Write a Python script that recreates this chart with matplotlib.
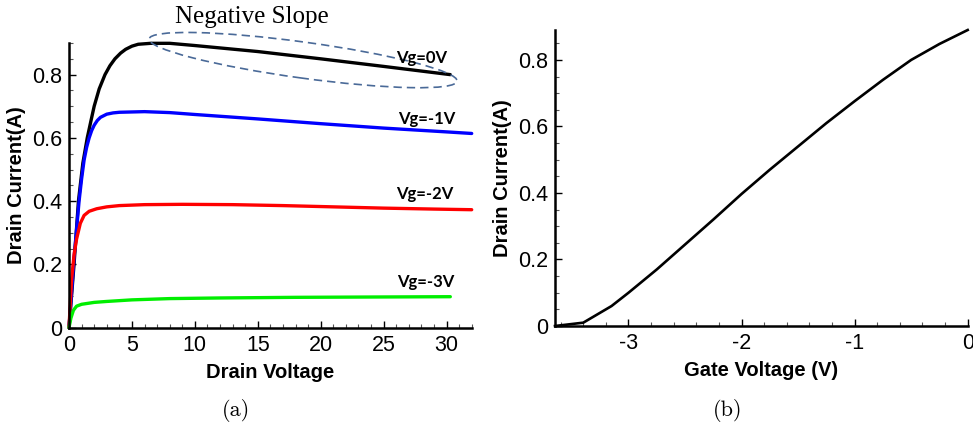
import matplotlib
matplotlib.use("Agg")
import matplotlib.pyplot as plt
import matplotlib.transforms as mtransforms
from matplotlib.patches import Ellipse
from matplotlib.ticker import MultipleLocator

plt.rcParams['axes.unicode_minus'] = False
plt.rcParams['font.family'] = ['Liberation Sans', 'DejaVu Sans']

# ---- Panel (a): output characteristics ----
vd_0 = [0, 0.4, 0.75, 1.1, 1.45, 1.75, 2.0, 2.4, 2.86, 3.25, 3.65, 4.1, 4.5, 5.0, 5.5, 6.5, 8, 10, 15, 20, 25, 30.3]
id_0 = [0, 0.2, 0.4, 0.52, 0.6, 0.655, 0.7, 0.755, 0.8, 0.828, 0.85, 0.868, 0.88, 0.89, 0.896, 0.899, 0.899, 0.892, 0.873, 0.85, 0.826, 0.8]

vd_1 = [0, 0.4, 0.8, 1.0, 1.2, 1.4, 1.6, 1.8, 2.0, 2.25, 2.5, 3, 3.5, 4, 6, 8, 10, 15, 20, 25, 30, 32]
id_1 = [0, 0.22, 0.4, 0.47, 0.53, 0.57, 0.6, 0.623, 0.64, 0.655, 0.665, 0.675, 0.679, 0.681, 0.683, 0.68, 0.674, 0.66, 0.645, 0.631, 0.619, 0.614]

vd_2 = [0, 0.2, 0.4, 0.6, 0.9, 1.2, 1.6, 2.2, 3, 4, 6, 9, 13, 17, 21, 25, 29, 32]
id_2 = [0, 0.15, 0.23, 0.28, 0.33, 0.355, 0.368, 0.376, 0.382, 0.386, 0.389, 0.39, 0.389, 0.386, 0.382, 0.378, 0.375, 0.373]

vd_3 = [0, 0.15, 0.35, 0.6, 1, 2, 3, 5, 8, 12, 18, 24, 30.3]
id_3 = [0, 0.03, 0.055, 0.068, 0.074, 0.08, 0.083, 0.088, 0.092, 0.094, 0.096, 0.097, 0.098]

curve_labels = ['Vg=0V', 'Vg=-1V', 'Vg=-2V', 'Vg=-3V']
curve_colors = ['#000000', '#0000ff', '#ff0000', '#00ee00']

# ---- Panel (b): transfer characteristic ----
vg = [-3.65, -3.4, -3.15, -3.0, -2.75, -2.5, -2.25, -2.0, -1.75, -1.5, -1.25, -1.0, -0.75, -0.5, -0.25, 0]
id_vg = [0, 0.01, 0.06, 0.1, 0.17, 0.245, 0.32, 0.397, 0.47, 0.54, 0.61, 0.676, 0.74, 0.8, 0.848, 0.89]

W, H = 973, 425
fig = plt.figure(figsize=(W / 100, H / 100), dpi=100)

def px_rect(x0, y0, x1, y1):
    return [x0 / W, (H - y1) / H, (x1 - x0) / W, (y1 - y0) / H]

ax1 = fig.add_axes(px_rect(69, 43, 471.7, 327.7))
ax2 = fig.add_axes(px_rect(555, 30, 967.7, 326))

def style(ax):
    for s in ['top', 'right']:
        ax.spines[s].set_visible(False)
    for s in ['left', 'bottom']:
        ax.spines[s].set_linewidth(1.8)
    ax.tick_params(which='major', direction='in', length=5, width=1.0, labelsize=15.5, pad=5)
    ax.tick_params(which='minor', direction='in', length=3, width=0.8, color='#555555')

style(ax1)
style(ax2)

xs = [vd_0, vd_1, vd_2, vd_3]
ys = [id_0, id_1, id_2, id_3]
for x, y, c in zip(xs, ys, curve_colors):
    ax1.plot(x, y, color=c, lw=2.4, solid_capstyle='round', solid_joinstyle='round', clip_on=False)

label_pos = [(421.7, 58), (426.7, 119), (425, 194), (426, 282)]
for (px, py), t in zip(label_pos, curve_labels):
    fig.text(px / W, (H - py) / H, t, ha='center', va='center', fontsize=12,
             fontweight='bold', family=['Lato', 'DejaVu Sans'])

ax1.set_xlim(0, 32)
ax1.set_ylim(0, 0.9)
ax1.xaxis.set_major_locator(MultipleLocator(5))
ax1.xaxis.set_minor_locator(MultipleLocator(1))
ax1.yaxis.set_minor_locator(MultipleLocator(0.05))
ax1.set_yticks([0, 0.2, 0.4, 0.6, 0.8])
ax1.set_yticklabels(['0', '0.2', '0.4', '0.6', '0.8'])
ax1.set_xlabel('Drain Voltage', fontsize=14.5, fontweight='bold', labelpad=5)
ax1.set_ylabel('Drain Current(A)', fontsize=14.5, fontweight='bold', labelpad=4)

# dashed ellipse highlighting the negative slope region
trans = fig.dpi_scale_trans + mtransforms.ScaledTranslation(18.6, 0.846, ax1.transData)
ell = Ellipse((0, 0), width=3.11, height=0.36, angle=-7.8, transform=trans,
              fill=False, edgecolor='#4a6a98', lw=1.2, linestyle=(0, (5, 3)), clip_on=False)
fig.add_artist(ell)
fig.text(252 / W, (H - 17) / H, 'Negative Slope', ha='center', va='center',
         fontsize=18, family=['Liberation Serif', 'DejaVu Serif'])

ax2.plot(vg, id_vg, color='black', lw=1.9, solid_joinstyle='round', clip_on=False)
ax2.set_xlim(-3.65, 0)
ax2.set_ylim(0, 0.89)
ax2.xaxis.set_minor_locator(MultipleLocator(0.2))
ax2.set_yticks([0, 0.2, 0.4, 0.6, 0.8])
ax2.set_yticklabels(['0', '0.2', '0.4', '0.6', '0.8'])
ax2.yaxis.set_minor_locator(MultipleLocator(0.05))
ax2.set_xticks([-3, -2, -1, 0])
ax2.set_xticklabels(['-3', '-2', '-1', '0'])
ax2.set_xlabel('Gate Voltage (V)', fontsize=14.5, fontweight='bold', labelpad=5)
ax2.set_ylabel('Drain Current(A)', fontsize=14.5, fontweight='bold', labelpad=4)

fig.text(236 / W, (H - 410) / H, '(a)', ha='center', va='center', fontsize=16,
         family=['cmr10', 'DejaVu Serif'])
fig.text(727.5 / W, (H - 410) / H, '(b)', ha='center', va='center', fontsize=16,
         family=['cmr10', 'DejaVu Serif'])

fig.savefig('out.png', dpi=100)
